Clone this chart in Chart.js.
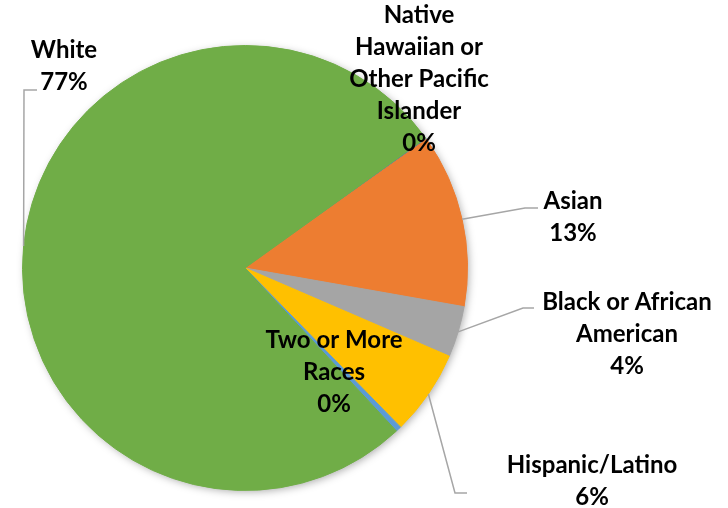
<!DOCTYPE html>
<html>
    <head>
        <title>Race / ethnicity</title>
        <script src="https://cdn.jsdelivr.net/npm/chart.js"></script>
        <style>
            html, body { margin: 0; padding: 0; background: #fff; }
            .chart-container { width: 728px; height: 508px; }
        </style>
    </head>
    <body>
        <div class="chart-container">
            <canvas id="raceChart"></canvas>
        </div>

    <script>
        // data, in clockwise order starting at the thin dark blue slice
        var labels = ['Native Hawaiian or Other Pacific Islander', 'Asian', 'Black or African American', 'Hispanic/Latino', 'Two or More Races', 'White'];
        var values = [0.1, 12.6, 3.7, 6.2, 0.4, 77.0];
        var colors = ['#4472C4', '#ED7D31', '#A5A5A5', '#FFC000', '#5B9BD5', '#70AD47'];

        // label text is split into lines the same way as the picture
        var labelLines = [
            ['Native', 'Hawaiian or', 'Other Pacific', 'Islander'],
            ['Asian'],
            ['Black or African', 'American'],
            ['Hispanic/Latino'],
            ['Two or More', 'Races'],
            ['White']
        ];

        // where each label sits: center x, first baseline, optional leader [elbowX, elbowY, endX, endY]
        var labelPos = [
            { x: 419, y: 23, leader: null },
            { x: 573, y: 209, leader: [525, 208, 538, 208] },
            { x: 627, y: 310, leader: [523, 308, 534, 308] },
            { x: 592, y: 473, leader: [455, 493, 467, 493] },
            { x: 334, y: 348, leader: null },
            { x: 64, y: 58, leader: [24, 90, 37, 90] }
        ];

        var total = values.reduce(function (a, b) { return a + b; }, 0);

        var pieShadow = {
            id: 'pieShadow',
            beforeDatasetsDraw: function (chart) {
                var arc = chart.getDatasetMeta(0).data[0];
                if (!arc) return;
                var ctx = chart.ctx;
                ctx.save();
                ctx.shadowColor = 'rgba(0,0,0,0.35)';
                ctx.shadowBlur = 9;
                ctx.shadowOffsetX = 2;
                ctx.shadowOffsetY = 2;
                ctx.fillStyle = '#fff';
                ctx.beginPath();
                ctx.arc(arc.x, arc.y, arc.outerRadius - 1, 0, Math.PI * 2);
                ctx.fill();
                ctx.restore();
            }
        };

        var pieLabels = {
            id: 'pieLabels',
            afterDatasetsDraw: function (chart) {
                var ctx = chart.ctx;
                var meta = chart.getDatasetMeta(0);
                ctx.save();
                meta.data.forEach(function (arc, i) {
                    var pos = labelPos[i];
                    if (pos.leader) {
                        var mid = (arc.startAngle + arc.endAngle) / 2;
                        var sx = arc.x + Math.cos(mid) * arc.outerRadius;
                        var sy = arc.y + Math.sin(mid) * arc.outerRadius;
                        ctx.strokeStyle = '#A6A6A6';
                        ctx.lineWidth = 1.5;
                        ctx.beginPath();
                        ctx.moveTo(sx, sy);
                        ctx.lineTo(pos.leader[0], pos.leader[1]);
                        ctx.lineTo(pos.leader[2], pos.leader[3]);
                        ctx.stroke();
                    }
                    var lines = labelLines[i].concat([Math.round(values[i] / total * 100) + '%']);
                    ctx.fillStyle = '#000';
                    ctx.font = 'bold 24px Lato';
                    ctx.textAlign = 'center';
                    ctx.textBaseline = 'alphabetic';
                    lines.forEach(function (t, k) {
                        ctx.fillText(t, pos.x, pos.y + k * 32);
                    });
                });
                ctx.restore();
            }
        };

        var ctxRace = document.getElementById('raceChart').getContext('2d');
        var raceChart = new Chart(ctxRace, {
            type: 'pie',
            data: {
                labels: labels,
                datasets: [{
                    data: values,
                    backgroundColor: colors,
                    borderColor: colors,
                    borderWidth: 1
                }]
            },
            options: {
                responsive: true,
                maintainAspectRatio: false,
                animation: false,
                rotation: 54.3,
                layout: {
                    padding: { left: 22, top: 45, right: 260, bottom: 17 }
                },
                plugins: {
                    legend: { display: false },
                    tooltip: { enabled: false }
                }
            },
            plugins: [pieShadow, pieLabels]
        });
    </script>
    </body>
</html>
